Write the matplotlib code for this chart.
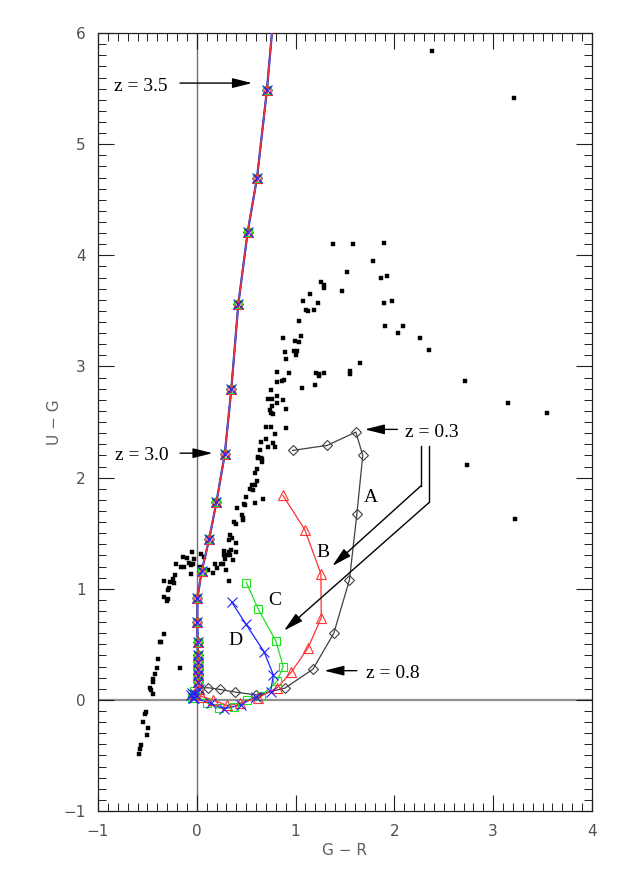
import numpy as np
import matplotlib.pyplot as plt
from matplotlib.ticker import MultipleLocator

# Observed objects (G-R, U-G)
gal_gr = [2.38, 3.21, 1.38, 1.58, 1.89, 1.78, 1.52, 1.86, 1.93, 1.26, 1.29, 1.29, 1.47, 1.15,
          1.07, 1.23, 1.89, 1.98, 1.11, 1.13, 1.19, 1.03, 1.90, 2.09, 2.04, 0.87, 1.05, 0.99,
          1.03, 2.26, 2.35, 0.89, 0.98, 1.01, 1.00, 0.90, 1.65, 0.81, 0.93, 1.21, 1.24, 1.29,
          1.24, 1.55, 1.55, 0.81, 0.86, 0.88, 1.06, 1.20, 0.75, 0.72, 0.76, 0.81, 0.87, 0.81,
          0.76, 0.74, 0.75, 0.77, 0.90, 0.70, 0.75, 0.90, 0.79, 0.70, 0.65, 0.77, 0.72, 0.79,
          0.64, 0.62, 0.62, 0.65, 0.66, 0.66, 0.61, 0.59, 0.61, 0.56, 0.59, 0.54, 0.57, 0.50,
          0.67, 0.48, 0.49, 0.59, 0.41, 0.46, 0.47, 0.47, 0.38, 0.40, 0.34, 0.36, 0.33, 0.40,
          0.35, 0.40, 0.34, 0.37, 0.28, 0.33, 0.28, 0.32, -0.14, -0.05, -0.10, -0.03, 0.04, 0.07,
          -0.21, -0.16, -0.13, -0.08, -0.06, -0.04, 0.24, 0.27, 0.30, 0.18, 0.20, 0.16, 0.11,
          -0.22, -0.24, -0.27, -0.23, -0.33, -0.28, -0.29, 0.33, -0.33, -0.29, -0.30, -0.33,
          -0.37, -0.36, -0.39, -0.40, -0.42, -0.44, -0.44, -0.47, -0.46, -0.44, -0.17, -0.51,
          -0.52, -0.54, -0.49, -0.50, -0.56, -0.57, -0.58, 2.71, 3.15, 3.54, 2.74, 3.22, 0.03,
          -0.06, 0.29]
gal_ug = [5.84, 5.42, 4.10, 4.10, 4.11, 3.95, 3.85, 3.80, 3.81, 3.76, 3.73, 3.71, 3.68, 3.65,
          3.59, 3.57, 3.57, 3.59, 3.51, 3.50, 3.51, 3.41, 3.36, 3.36, 3.30, 3.26, 3.27, 3.23,
          3.22, 3.26, 3.15, 3.13, 3.14, 3.14, 3.10, 3.07, 3.03, 2.95, 2.94, 2.94, 2.93, 2.94,
          2.91, 2.96, 2.93, 2.86, 2.87, 2.88, 2.81, 2.83, 2.79, 2.71, 2.71, 2.73, 2.70, 2.67,
          2.64, 2.61, 2.58, 2.57, 2.62, 2.46, 2.46, 2.45, 2.39, 2.35, 2.32, 2.31, 2.28, 2.28,
          2.25, 2.19, 2.18, 2.18, 2.17, 2.14, 2.08, 2.04, 1.97, 1.93, 1.93, 1.90, 1.89, 1.83,
          1.81, 1.76, 1.75, 1.77, 1.73, 1.66, 1.64, 1.62, 1.60, 1.58, 1.48, 1.46, 1.44, 1.41,
          1.35, 1.33, 1.30, 1.26, 1.34, 1.33, 1.30, 1.30, 1.29, 1.33, 1.28, 1.27, 1.31, 1.29,
          1.22, 1.20, 1.20, 1.23, 1.21, 1.22, 1.22, 1.22, 1.17, 1.22, 1.19, 1.14, 1.17,
          1.12, 1.09, 1.06, 1.05, 1.07, 1.01, 0.99, 1.07, 0.93, 0.91, 0.89, 0.59,
          0.52, 0.52, 0.37, 0.29, 0.23, 0.19, 0.16, 0.11, 0.09, 0.05, 0.29, -0.11,
          -0.13, -0.20, -0.25, -0.32, -0.41, -0.44, -0.49, 2.87, 2.67, 2.58, 2.11, 1.63, 1.20,
          1.13, 1.27]

# Shared high-redshift track (top to bottom)
hiz_gr = [0.80, 0.71, 0.61, 0.515, 0.42, 0.35, 0.283, 0.199, 0.125, 0.05, 0.007, 0.005,
          0.008, 0.01, 0.012, 0.012, 0.015, 0.015, 0.02]
hiz_ug = [6.40, 5.49, 4.70, 4.21, 3.56, 2.80, 2.21, 1.78, 1.445, 1.16, 0.92, 0.70,
          0.52, 0.40, 0.34, 0.28, 0.22, 0.16, 0.10]

# Low-redshift branches of models A-D (from z = 0)
a_gr = [0.97, 1.32, 1.61, 1.68, 1.62, 1.545, 1.387, 1.175, 0.89, 0.60, 0.39, 0.23, 0.11]
a_ug = [2.245, 2.29, 2.41, 2.20, 1.67, 1.08, 0.60, 0.276, 0.105, 0.045, 0.07, 0.095, 0.11]
b_gr = [0.872, 1.094, 1.256, 1.26, 1.124, 0.956, 0.815, 0.62, 0.44, 0.31, 0.16, 0.05, -0.03]
b_ug = [1.84, 1.53, 1.135, 0.74, 0.465, 0.25, 0.11, 0.02, -0.03, -0.05, 0.0, 0.03, 0.05]
c_gr = [0.502, 0.623, 0.80, 0.875, 0.815, 0.653, 0.51, 0.377, 0.226, 0.108, -0.02, -0.05, -0.03]
c_ug = [1.055, 0.815, 0.53, 0.30, 0.17, 0.035, 0.0, -0.06, -0.075, -0.03, 0.05, 0.02, 0.08]
d_gr = [0.354, 0.498, 0.68, 0.775, 0.747, 0.596, 0.444, 0.276, 0.14, -0.03, -0.06, -0.04, -0.05, -0.02]
d_ug = [0.88, 0.68, 0.435, 0.225, 0.075, 0.03, -0.045, -0.08, -0.03, 0.02, 0.04, 0.02, 0.06, 0.05]

models = {
    "A": (a_gr, a_ug, "#404040", "D", 4.6),
    "B": (b_gr, b_ug, "#ff3030", "^", 7.0),
    "C": (c_gr, c_ug, "#20e020", "s", 6.0),
    "D": (d_gr, d_ug, "#2020ff", "x", 6.5),
}

serif = "Liberation Serif"
fig = plt.figure(figsize=(6.23, 8.75), dpi=100)
ax = fig.add_axes([0.1573, 0.0731, 0.7929, 0.8891])

ax.axvline(0, color="#707070", lw=1.0, zorder=1)
ax.axhline(0, color="#909090", lw=1.6, zorder=1)

ax.plot(gal_gr, gal_ug, "s", color="k", ms=2.2, mec="k", mew=0.3, zorder=2)


def track(key):
    gr, ug, col, mk, ms = models[key]
    return list(gr) + hiz_gr[::-1], list(ug) + hiz_ug[::-1], col, mk, ms


# blue drawn a little wider on the shared part so it peeks out from under the red
ax.plot(hiz_gr, hiz_ug, "-", color=models["D"][2], lw=1.6, zorder=3)
for key in ["A", "C", "D", "B"]:
    x, y, col, mk, ms = track(key)
    ax.plot(x, y, "-", color=col, lw=0.9, zorder=3)
for key in ["A", "C", "B", "D"]:
    x, y, col, mk, ms = track(key)
    ax.plot(x, y, "none", marker=mk, ms=ms, mfc="none", mec=col, mew=0.8, zorder=4)

# model labels
for name, gx, gy in [("A", 1.76, 1.82), ("B", 1.28, 1.33), ("C", 0.79, 0.89), ("D", 0.39, 0.53)]:
    ax.text(gx, gy, name, family=serif, fontsize=14, ha="center", va="center")

arrow = dict(arrowstyle="-|>,head_length=1.2,head_width=0.3", color="k", lw=1.0,
             mutation_scale=10, shrinkA=0, shrinkB=0)

# redshift annotations
ax.annotate("", xy=(0.56, 5.55), xytext=(-0.17, 5.55), arrowprops=arrow)
ax.text(-0.30, 5.52, "z = 3.5", family=serif, fontsize=14, ha="right", va="center")
ax.annotate("", xy=(0.16, 2.22), xytext=(-0.17, 2.22), arrowprops=arrow)
ax.text(-0.29, 2.20, "z = 3.0", family=serif, fontsize=14, ha="right", va="center")
ax.annotate("", xy=(1.70, 2.434), xytext=(2.03, 2.434), arrowprops=arrow)
ax.text(2.11, 2.41, "z = 0.3", family=serif, fontsize=14, ha="left", va="center")
ax.annotate("", xy=(1.29, 0.263), xytext=(1.62, 0.263), arrowprops=arrow)
ax.text(1.71, 0.24, "z = 0.8", family=serif, fontsize=14, ha="left", va="center")

# bent pointer lines from z = 0.3 label
ax.plot([2.27, 2.27], [2.287, 1.927], color="k", lw=1.0)
ax.annotate("", xy=(1.371, 1.205), xytext=(2.27, 1.927), arrowprops=arrow)
ax.plot([2.354, 2.354], [2.287, 1.778], color="k", lw=1.0)
ax.annotate("", xy=(0.882, 0.623), xytext=(2.354, 1.778), arrowprops=arrow)

ax.set_xlim(-1, 4)
ax.set_ylim(-1, 6)
ax.xaxis.set_major_locator(MultipleLocator(1))
ax.xaxis.set_minor_locator(MultipleLocator(0.1))
ax.yaxis.set_major_locator(MultipleLocator(1))
ax.yaxis.set_minor_locator(MultipleLocator(0.1))
ax.tick_params(which="both", direction="in", top=True, right=True, color="#202020",
               labelcolor="#505050", labelsize=11)
ax.tick_params(which="major", length=11.5, width=0.8, pad=9)
ax.tick_params(which="minor", length=5.8, width=0.7)
for s in ax.spines.values():
    s.set_linewidth(0.9)
    s.set_color("#202020")

ax.set_xlabel("G \u2212 R", color="#606060", fontsize=11, labelpad=3)
ax.set_ylabel("U \u2212 G", color="#606060", fontsize=11, labelpad=1)

fig.savefig("out.png", dpi=100)
